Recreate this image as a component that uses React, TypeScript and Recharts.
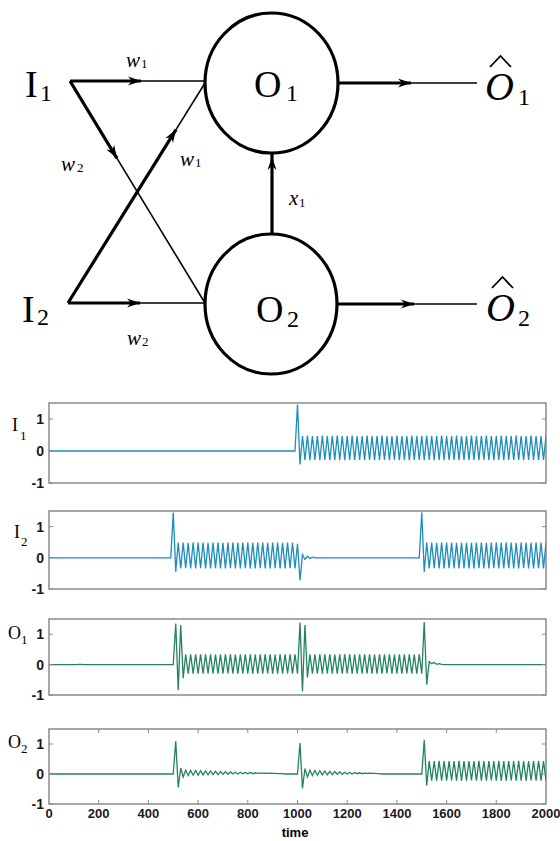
import { LineChart, Line, XAxis, YAxis, ReferenceArea, ReferenceLine } from "recharts";

// sample times (shared by all four traces)
const TIME = [
  0, 10, 20, 30, 40, 50, 60, 70, 80, 90,
  100, 110, 120, 130, 140, 150, 160, 170, 180, 190,
  200, 210, 220, 230, 240, 250, 260, 270, 280, 290,
  300, 310, 320, 330, 340, 350, 360, 370, 380, 390,
  400, 410, 420, 430, 440, 450, 460, 470, 480, 490,
  500, 510, 520, 530, 540, 550, 560, 570, 580, 590,
  600, 610, 620, 630, 640, 650, 660, 670, 680, 690,
  700, 710, 720, 730, 740, 750, 760, 770, 780, 790,
  800, 810, 820, 830, 840, 850, 860, 870, 880, 890,
  900, 910, 920, 930, 940, 950, 960, 970, 980, 990,
  1000, 1010, 1020, 1030, 1040, 1050, 1060, 1070, 1080, 1090,
  1100, 1110, 1120, 1130, 1140, 1150, 1160, 1170, 1180, 1190,
  1200, 1210, 1220, 1230, 1240, 1250, 1260, 1270, 1280, 1290,
  1300, 1310, 1320, 1330, 1340, 1350, 1360, 1370, 1380, 1390,
  1400, 1410, 1420, 1430, 1440, 1450, 1460, 1470, 1480, 1490,
  1500, 1510, 1520, 1530, 1540, 1550, 1560, 1570, 1580, 1590,
  1600, 1610, 1620, 1630, 1640, 1650, 1660, 1670, 1680, 1690,
  1700, 1710, 1720, 1730, 1740, 1750, 1760, 1770, 1780, 1790,
  1800, 1810, 1820, 1830, 1840, 1850, 1860, 1870, 1880, 1890,
  1900, 1910, 1920, 1930, 1940, 1950, 1960, 1970, 1980, 1990,
  2000,
];

const I1 = [
  0, 0, 0, 0, 0, 0, 0, 0, 0, 0,
  0, 0, 0, 0, 0, 0, 0, 0, 0, 0,
  0, 0, 0, 0, 0, 0, 0, 0, 0, 0,
  0, 0, 0, 0, 0, 0, 0, 0, 0, 0,
  0, 0, 0, 0, 0, 0, 0, 0, 0, 0,
  0, 0, 0, 0, 0, 0, 0, 0, 0, 0,
  0, 0, 0, 0, 0, 0, 0, 0, 0, 0,
  0, 0, 0, 0, 0, 0, 0, 0, 0, 0,
  0, 0, 0, 0, 0, 0, 0, 0, 0, 0,
  0, 0, 0, 0, 0, 0, 0, 0, 0, 0,
  1.45, -0.42, 0.47, -0.28, 0.48, -0.29, 0.47, -0.28, 0.47, -0.29,
  0.48, -0.28, 0.47, -0.29, 0.47, -0.28, 0.48, -0.28, 0.47, -0.29,
  0.47, -0.28, 0.48, -0.29, 0.47, -0.28, 0.47, -0.29, 0.48, -0.28,
  0.47, -0.29, 0.47, -0.28, 0.48, -0.28, 0.47, -0.29, 0.47, -0.28,
  0.48, -0.29, 0.47, -0.28, 0.47, -0.29, 0.48, -0.28, 0.47, -0.28,
  0.47, -0.29, 0.48, -0.28, 0.47, -0.29, 0.47, -0.28, 0.48, -0.29,
  0.47, -0.28, 0.47, -0.28, 0.48, -0.29, 0.47, -0.28, 0.47, -0.29,
  0.48, -0.28, 0.47, -0.29, 0.47, -0.28, 0.48, -0.28, 0.47, -0.29,
  0.47, -0.28, 0.48, -0.29, 0.47, -0.28, 0.47, -0.29, 0.48, -0.28,
  0.47, -0.29, 0.47, -0.28, 0.48, -0.28, 0.47, -0.29, 0.47, -0.28,
  0.46,
];

const I2 = [
  0, 0, 0, 0, 0, 0, 0, 0, 0, 0,
  0, 0, 0, 0, 0, 0, 0, 0, 0, 0,
  0, 0, 0, 0, 0, 0, 0, 0, 0, 0,
  0, 0, 0, 0, 0, 0, 0, 0, 0, 0,
  0, 0, 0, 0, 0, 0, 0, 0, 0, 0,
  1.45, -0.45, 0.49, -0.34, 0.49, -0.33, 0.48, -0.34, 0.49, -0.34,
  0.49, -0.33, 0.49, -0.34, 0.48, -0.34, 0.49, -0.33, 0.49, -0.34,
  0.48, -0.34, 0.49, -0.33, 0.49, -0.34, 0.48, -0.34, 0.49, -0.33,
  0.49, -0.34, 0.48, -0.34, 0.49, -0.33, 0.49, -0.34, 0.48, -0.34,
  0.49, -0.33, 0.49, -0.34, 0.48, -0.34, 0.49, -0.33, 0.49, -0.34,
  0.45, -0.72, 0.1, -0.05, 0.05, -0.02, 0.02, 0, 0, 0,
  0, 0, 0, 0, 0, 0, 0, 0, 0, 0,
  0, 0, 0, 0, 0, 0, 0, 0, 0, 0,
  0, 0, 0, 0, 0, 0, 0, 0, 0, 0,
  0, 0, 0, 0, 0, 0, 0, 0, 0, 0,
  1.45, -0.45, 0.49, -0.34, 0.49, -0.33, 0.48, -0.34, 0.49, -0.34,
  0.49, -0.33, 0.49, -0.34, 0.48, -0.34, 0.49, -0.33, 0.49, -0.34,
  0.48, -0.34, 0.49, -0.33, 0.49, -0.34, 0.48, -0.34, 0.49, -0.33,
  0.49, -0.34, 0.48, -0.34, 0.49, -0.33, 0.49, -0.34, 0.48, -0.34,
  0.49, -0.33, 0.49, -0.34, 0.48, -0.34, 0.49, -0.33, 0.49, -0.34,
  0.48,
];

const O1 = [
  0, 0, 0, 0, 0, 0, 0, 0, 0, 0,
  0, 0, 0.01, 0.01, 0, 0, 0, 0, 0, 0,
  0, 0, 0, 0, 0, 0, 0, 0, 0, 0,
  0, 0, 0, 0, 0, 0, 0, 0, 0, 0,
  0, 0, 0, 0, 0, 0, 0, 0, 0, 0,
  0, 1.35, -0.84, 1.3, -0.45, 0.34, -0.3, 0.34, -0.3, 0.34,
  -0.3, 0.34, -0.3, 0.34, -0.29, 0.34, -0.3, 0.33, -0.3, 0.34,
  -0.3, 0.34, -0.29, 0.34, -0.3, 0.33, -0.3, 0.34, -0.3, 0.34,
  -0.29, 0.34, -0.3, 0.33, -0.3, 0.34, -0.3, 0.34, -0.29, 0.34,
  -0.3, 0.33, -0.3, 0.34, -0.3, 0.34, -0.29, 0.34, -0.3, 0.34,
  -0.3, 1.38, -0.88, 1.3, -0.42, 0.34, -0.3, 0.34, -0.3, 0.34,
  -0.3, 0.34, -0.29, 0.34, -0.3, 0.33, -0.3, 0.34, -0.3, 0.34,
  -0.29, 0.34, -0.3, 0.33, -0.3, 0.34, -0.3, 0.34, -0.29, 0.34,
  -0.3, 0.33, -0.3, 0.34, -0.3, 0.34, -0.29, 0.34, -0.3, 0.33,
  -0.3, 0.34, -0.3, 0.34, -0.29, 0.34, -0.3, 0.33, -0.3, 0.34,
  -0.3, 1.4, -0.66, 0.1, 0.03, 0.07, 0.01, 0.03, 0.01, 0,
  0, 0, 0, 0, 0, 0, 0, 0, 0, 0,
  0, 0, 0, 0, 0, 0, 0, 0, 0, 0,
  0, 0, 0, 0, 0, 0, 0, 0, 0, 0,
  0, 0, 0, 0, 0, 0, 0, 0, 0, 0,
  0,
];

const O2 = [
  0, 0, 0, 0, 0, 0, 0, 0, 0, 0,
  0, 0, 0, 0, 0, 0, 0, 0, 0, 0,
  0, 0, 0, 0, 0, 0, 0, 0, 0, 0,
  0, 0, 0, 0, 0, 0, 0, 0, 0, 0,
  0, 0, 0, 0, 0, 0, 0, 0, 0, 0,
  0, 1.1, -0.45, 0.2, -0.1, 0.13, -0.05, 0.12, -0.04, 0.12,
  -0.04, 0.11, -0.03, 0.1, -0.03, 0.1, -0.02, 0.09, -0.02, 0.08,
  -0.01, 0.08, -0.01, 0.07, 0, 0.06, 0, 0.06, 0.01, 0.05,
  0.01, 0.05, 0.01, 0.04, 0.02, 0.04, 0.02, 0.03, 0.02, 0.03,
  0.02, 0.02, 0.01, 0.01, 0.01, 0, 0, 0, 0, 0,
  0, 1.03, -0.48, 0.18, -0.1, 0.13, -0.05, 0.12, -0.04, 0.11,
  -0.03, 0.1, -0.03, 0.09, -0.02, 0.08, -0.01, 0.07, -0.01, 0.06,
  0, 0.05, 0, 0.05, 0.01, 0.04, 0.01, 0.03, 0.02, 0.03,
  0.02, 0.02, 0.01, 0.01, 0, 0, 0, 0, 0, 0,
  0, 0, 0, 0, 0, 0, 0, 0, 0, 0,
  0, 1.13, -0.38, 0.43, -0.22, 0.43, -0.22, 0.44, -0.22, 0.43,
  -0.22, 0.43, -0.21, 0.43, -0.22, 0.44, -0.22, 0.43, -0.22, 0.43,
  -0.21, 0.43, -0.22, 0.44, -0.22, 0.43, -0.22, 0.43, -0.21, 0.43,
  -0.22, 0.44, -0.22, 0.43, -0.22, 0.43, -0.21, 0.43, -0.22, 0.44,
  -0.22, 0.43, -0.22, 0.43, -0.21, 0.43, -0.22, 0.44, -0.22, 0.43,
  -0.22,
];

const X_TICKS = [0, 200, 400, 600, 800, 1000, 1200, 1400, 1600, 1800, 2000];
const Y_TICKS = [-1, 0, 1];
const Y_DOMAIN: [number, number] = [-1, 1.5];

const SERIF = '"Liberation Serif", "Times New Roman", serif';
const SANS = '"Liberation Sans", Arial, sans-serif';
const BLUE = "#1d8dbb";
const GREEN = "#24855d";
const FRAME = "#8a8a8a";

type PanelProps = {
  values: number[];
  color: string;
  top: number;
  plotH: number;
  showX?: boolean;
};

function Panel({ values, color, top, plotH, showX }: PanelProps) {
  const data = TIME.map((t, i) => ({ t, v: values[i] }));
  const mt = 6;
  const mb = 8;
  const axisH = showX ? 24 : 0;
  const yLen = 4 / (plotH / 2.5); // ~4px in data units
  return (
    <div style={{ position: "absolute", left: 0, top: top - mt }}>
      <LineChart
        width={560}
        height={mt + plotH + axisH + mb}
        data={data}
        margin={{ top: mt, right: 14, bottom: mb, left: 0 }}
      >
        <XAxis
          type="number"
          dataKey="t"
          domain={[0, 2000]}
          ticks={X_TICKS}
          interval={0}
          hide={!showX}
          height={axisH}
          axisLine={false}
          tickLine={false}
          tickSize={4}
          tickMargin={1}
          allowDataOverflow
          tick={{ fontFamily: SANS, fontWeight: 700, fontSize: 13, fill: "#1a1a1a" }}
        />
        <YAxis
          type="number"
          domain={Y_DOMAIN}
          ticks={Y_TICKS}
          interval={0}
          width={49}
          axisLine={false}
          tickLine={false}
          tickSize={4}
          tickMargin={1}
          allowDataOverflow
          tick={{ fontFamily: SANS, fontWeight: 700, fontSize: 14, fill: "#1a1a1a" }}
        />
        <Line
          type="linear"
          dataKey="v"
          stroke={color}
          strokeWidth={1.3}
          dot={false}
          isAnimationActive={false}
        />
        <ReferenceArea
          x1={0}
          x2={2000}
          y1={Y_DOMAIN[0]}
          y2={Y_DOMAIN[1]}
          fill="none"
          stroke={FRAME}
          strokeWidth={1.5}
        />
        {Y_TICKS.map((y) => (
          <ReferenceLine
            key={`l${y}`}
            segment={[{ x: 0, y }, { x: 16, y }]}
            stroke={FRAME}
            strokeWidth={1}
          />
        ))}
        {Y_TICKS.map((y) => (
          <ReferenceLine
            key={`r${y}`}
            segment={[{ x: 1984, y }, { x: 2000, y }]}
            stroke={FRAME}
            strokeWidth={1}
          />
        ))}
        {showX &&
          X_TICKS.slice(1, -1).map((x) => (
            <ReferenceLine
              key={`b${x}`}
              segment={[{ x, y: Y_DOMAIN[0] }, { x, y: Y_DOMAIN[0] + yLen }]}
              stroke={FRAME}
              strokeWidth={1}
            />
          ))}
        {showX &&
          X_TICKS.slice(1, -1).map((x) => (
            <ReferenceLine
              key={`t${x}`}
              segment={[{ x, y: Y_DOMAIN[1] }, { x, y: Y_DOMAIN[1] - yLen }]}
              stroke={FRAME}
              strokeWidth={1}
            />
          ))}
      </LineChart>
    </div>
  );
}

function Arrow({ x, y, dx, dy }: { x: number; y: number; dx: number; dy: number }) {
  const len = Math.hypot(dx, dy);
  const ux = dx / len;
  const uy = dy / len;
  const px = -uy;
  const py = ux;
  const L = 13;
  const W = 4.5;
  const N = 9;
  const pts = [
    [x, y],
    [x - ux * L + px * W, y - uy * L + py * W],
    [x - ux * N, y - uy * N],
    [x - ux * L - px * W, y - uy * L - py * W],
  ];
  return <polygon points={pts.map((p) => p.join(",")).join(" ")} fill="#000" />;
}

// thick until the arrow, thin after it
function Edge({ x1, y1, x2, y2, ax, ay, thickAll }: { x1: number; y1: number; x2: number; y2: number; ax: number; ay: number; thickAll?: boolean }) {
  return (
    <g>
      <line x1={x1} y1={y1} x2={ax} y2={ay} stroke="#000" strokeWidth={3.2} />
      <line x1={ax} y1={ay} x2={x2} y2={y2} stroke="#000" strokeWidth={thickAll ? 3.2 : 1.6} />
      <Arrow x={ax} y={ay} dx={x2 - x1} dy={y2 - y1} />
    </g>
  );
}

function Diagram() {
  const big = { fontFamily: SERIF, fontSize: 38, fill: "#000" };
  const hat = { fontFamily: SERIF, fontSize: 40, fontStyle: "italic" as const, fill: "#000" };
  const sub = { fontFamily: SERIF, fontSize: 24, fill: "#000" };
  const w = { fontFamily: SERIF, fontSize: 21, fontStyle: "italic" as const, fill: "#000" };
  const ws = { fontFamily: SERIF, fontSize: 13, fill: "#000" };
  return (
    <svg width={560} height={841} style={{ position: "absolute", left: 0, top: 0, pointerEvents: "none" }}>
      {/* nodes */}
      <ellipse cx={271.5} cy={83} rx={66.5} ry={70} fill="none" stroke="#000" strokeWidth={3.2} />
      <ellipse cx={271} cy={304} rx={66} ry={70} fill="none" stroke="#000" strokeWidth={3.2} />

      {/* edges */}
      <Edge x1={70} y1={81} x2={205} y2={81} ax={141} ay={81} />
      <Edge x1={70} y1={81} x2={205} y2={303} ax={117} ay={158.3} />
      <Edge x1={68} y1={303} x2={205} y2={83} ax={176} ay={129.6} />
      <Edge x1={68} y1={303} x2={205} y2={303} ax={140} ay={303} />
      <Edge x1={338} y1={83} x2={477} y2={83} ax={411} ay={83} />
      <Edge x1={337} y1={304} x2={477} y2={304} ax={414} ay={304} />
      <Edge x1={272} y1={234} x2={272} y2={153} ax={272} ay={157} thickAll />

      {/* node labels */}
      <text x={25} y={97} {...big}>I</text>
      <text x={40} y={101} {...sub}>1</text>
      <text x={22} y={322} {...big}>I</text>
      <text x={37} y={325} {...sub}>2</text>
      <text x={254} y={97} {...big}>O</text>
      <text x={286} y={101} {...sub}>1</text>
      <text x={256} y={322} {...big}>O</text>
      <text x={287} y={327} {...sub}>2</text>

      <text x={485} y={100} {...hat}>O</text>
      <path d="M490,67 L500.5,56 L511,67" fill="none" stroke="#000" strokeWidth={1.8} />
      <text x={518} y={105} {...sub}>1</text>
      <text x={486} y={321} {...hat}>O</text>
      <path d="M492,288 L502.5,277 L513,288" fill="none" stroke="#000" strokeWidth={1.8} />
      <text x={518} y={326} {...sub}>2</text>

      {/* weights */}
      <text x={126} y={67} {...w}>w</text>
      <text x={141} y={68} {...ws}>1</text>
      <text x={61} y={171} {...w}>w</text>
      <text x={77} y={172} {...ws}>2</text>
      <text x={180} y={166} {...w}>w</text>
      <text x={195} y={167} {...ws}>1</text>
      <text x={127} y={345} {...w}>w</text>
      <text x={142} y={346} {...ws}>2</text>
      <text x={289} y={205} {...w}>x</text>
      <text x={299} y={207} {...ws}>1</text>

      {/* panel labels */}
      <text x={12} y={431} fontFamily={SERIF} fontSize={18}>I</text>
      <text x={20} y={440} fontFamily={SERIF} fontSize={13}>1</text>
      <text x={14} y={538} fontFamily={SERIF} fontSize={18}>I</text>
      <text x={21} y={546} fontFamily={SERIF} fontSize={13}>2</text>
      <text x={8} y={639} fontFamily={SERIF} fontSize={18}>O</text>
      <text x={21} y={644} fontFamily={SERIF} fontSize={13}>1</text>
      <text x={8} y={748} fontFamily={SERIF} fontSize={18}>O</text>
      <text x={21} y={753} fontFamily={SERIF} fontSize={13}>2</text>

      <text x={295} y={837} textAnchor="middle" fontFamily={SANS} fontWeight={700} fontSize={13}>time</text>
    </svg>
  );
}

export default function App() {
  return (
    <div style={{ position: "absolute", left: 0, top: 0, width: 560, height: 841, background: "#fff" }}>
      <Panel values={I1} color={BLUE} top={403} plotH={80} />
      <Panel values={I2} color={BLUE} top={511} plotH={78} />
      <Panel values={O1} color={GREEN} top={619} plotH={76} />
      <Panel values={O2} color={GREEN} top={729} plotH={75} showX />
      <Diagram />
    </div>
  );
}
